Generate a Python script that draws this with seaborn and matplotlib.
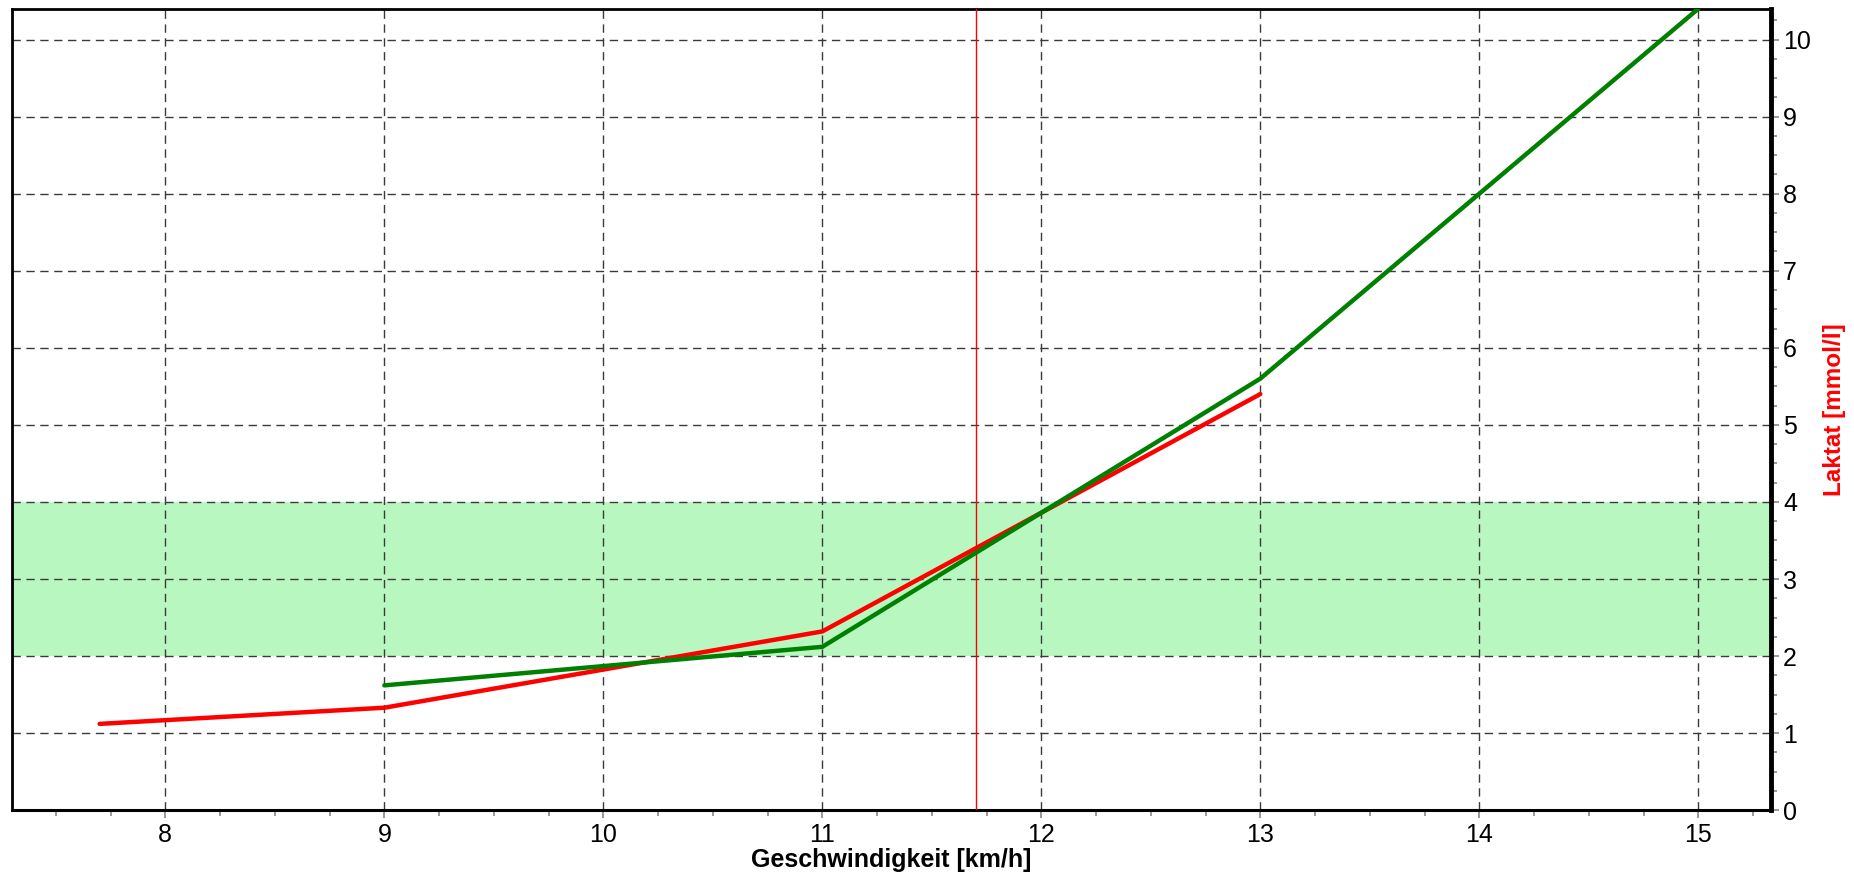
import pandas as pd
import matplotlib.pyplot as plt
import seaborn as sns
from matplotlib.ticker import MultipleLocator

# measured lactate values
speed_measured = [7.7, 9, 11, 13]
lactate_measured = [1.12, 1.33, 2.32, 5.4]

# fitted curve
speed_fit = [9, 11, 13, 15]
lactate_fit = [1.62, 2.12, 5.6, 10.4]

zone_low, zone_high = 2, 4
threshold_speed = 11.7


def lactate_chart():
    sns.set_style('white')
    plt.rcParams['font.family'] = ['Liberation Sans', 'DejaVu Sans']
    plt.rcParams['text.color'] = 'black'
    plt.rcParams['axes.labelcolor'] = 'black'
    plt.rcParams['xtick.color'] = 'black'
    plt.rcParams['ytick.color'] = 'black'

    fig, ax = plt.subplots(figsize=(18.54, 8.74), dpi=100)

    ax.axhspan(zone_low, zone_high, color='#b8f8c0', zorder=0, lw=0)
    ax.axvline(threshold_speed, color='red', lw=1.0, zorder=3)

    measured = pd.DataFrame({'speed': speed_measured, 'lactate': lactate_measured})
    fit = pd.DataFrame({'speed': speed_fit, 'lactate': lactate_fit})
    sns.lineplot(data=measured, x='speed', y='lactate', color='red', lw=3.2,
                 ax=ax, zorder=4, sort=False)
    sns.lineplot(data=fit, x='speed', y='lactate', color='green', lw=3.2,
                 ax=ax, zorder=5, sort=False)

    ax.set_xlim(7.3, 15.33)
    ax.set_ylim(0, 10.4)

    ax.xaxis.set_major_locator(MultipleLocator(1))
    ax.xaxis.set_minor_locator(MultipleLocator(0.25))
    ax.yaxis.set_major_locator(MultipleLocator(1))
    ax.yaxis.set_minor_locator(MultipleLocator(0.25))
    ax.yaxis.tick_right()
    ax.yaxis.set_label_position('right')

    ax.grid(True, which='major', color='#3a3a3a', lw=1.0, linestyle=(0, (6, 4)), zorder=1)
    ax.set_axisbelow(True)

    ax.tick_params(which='major', direction='out', length=6, width=1.2, color='#888888',
                   labelcolor='black', labelsize=18, pad=3,
                   bottom=True, right=True, left=False)
    ax.tick_params(which='minor', direction='out', length=4, width=1.2, color='#888888',
                   bottom=True, right=True, left=False)

    for side, w in [('top', 2), ('left', 2), ('bottom', 2.2), ('right', 3.5)]:
        ax.spines[side].set_visible(True)
        ax.spines[side].set_color('black')
        ax.spines[side].set_linewidth(w)

    ax.set_xlabel('Geschwindigkeit [km/h]', fontsize=18, fontweight='bold',
                  color='black', labelpad=1)
    ax.set_ylabel('Laktat [mmol/l]', fontsize=17.5, fontweight='bold', color='red', labelpad=9)

    plt.subplots_adjust(left=0.0065, right=0.955, top=0.99, bottom=0.073)
    plt.savefig('out.png', dpi=100)


def main():
    lactate_chart()


if __name__ == '__main__':
    main()
